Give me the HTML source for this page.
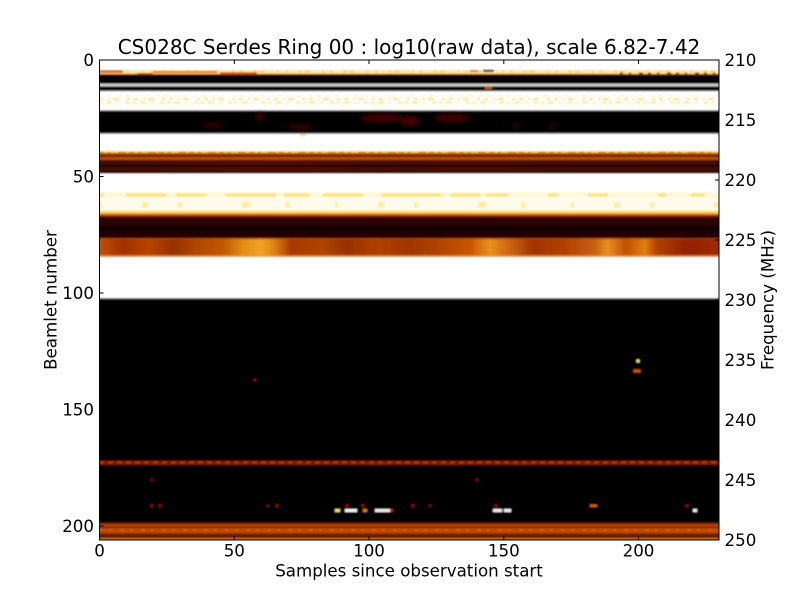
<!DOCTYPE html>
<html><head><meta charset="utf-8"><style>
html,body{margin:0;padding:0;background:#fff;}
svg{display:block;}
text{font-family:"DejaVu Sans","Liberation Sans",sans-serif;fill:#000;}
</style></head><body>
<svg width="800" height="600" viewBox="0 0 800 600" xmlns="http://www.w3.org/2000/svg">
<defs>
<clipPath id="pc"><rect x="99.5" y="60" width="619.5" height="480"/></clipPath>
<filter id="bl" x="-2%" y="-2%" width="104%" height="104%"><feGaussianBlur stdDeviation="0.9"/></filter>
<filter id="bl2" x="-50%" y="-50%" width="200%" height="200%"><feGaussianBlur stdDeviation="2.5"/></filter>
<linearGradient id="ob" x1="99" x2="719" y1="0" y2="0" gradientUnits="userSpaceOnUse">
<stop offset="0%" stop-color="#c05000"/>
<stop offset="4%" stop-color="#a03000"/>
<stop offset="8%" stop-color="#b84400"/>
<stop offset="12%" stop-color="#983000"/>
<stop offset="16%" stop-color="#b04800"/>
<stop offset="20%" stop-color="#c05800"/>
<stop offset="23%" stop-color="#e08a10"/>
<stop offset="26%" stop-color="#f0a428"/>
<stop offset="28%" stop-color="#e08818"/>
<stop offset="31%" stop-color="#a83800"/>
<stop offset="36%" stop-color="#b04400"/>
<stop offset="40%" stop-color="#983000"/>
<stop offset="45%" stop-color="#b04000"/>
<stop offset="50%" stop-color="#a03400"/>
<stop offset="55%" stop-color="#b04400"/>
<stop offset="60%" stop-color="#c85800"/>
<stop offset="63%" stop-color="#e89020"/>
<stop offset="66%" stop-color="#d06810"/>
<stop offset="70%" stop-color="#a03400"/>
<stop offset="75%" stop-color="#b04000"/>
<stop offset="80%" stop-color="#c86010"/>
<stop offset="82%" stop-color="#e89020"/>
<stop offset="85%" stop-color="#c05000"/>
<stop offset="88%" stop-color="#e08010"/>
<stop offset="90%" stop-color="#b04000"/>
<stop offset="95%" stop-color="#902000"/>
<stop offset="100%" stop-color="#a02c00"/>
</linearGradient>
<linearGradient id="dr" x1="99" x2="719" y1="0" y2="0" gradientUnits="userSpaceOnUse">
<stop offset="0%" stop-color="#3a0700"/>
<stop offset="15%" stop-color="#480c00"/>
<stop offset="30%" stop-color="#500e00"/>
<stop offset="45%" stop-color="#420a00"/>
<stop offset="60%" stop-color="#4a0c00"/>
<stop offset="80%" stop-color="#420a00"/>
<stop offset="100%" stop-color="#400a00"/>
</linearGradient>
</defs>

<g clip-path="url(#pc)">
<g filter="url(#bl)">
<rect x="99" y="60" width="621" height="480" fill="#000"/>
<rect x="99" y="59" width="621" height="12" fill="#fff"/>
<rect x="99" y="70" width="621" height="4" fill="#fbd878"/>
<line x1="99" y1="71.5" x2="720" y2="71.5" stroke="#fff4c0" stroke-width="1.5" stroke-dasharray="6 3 10 4 3 5 12 2"/>
<rect x="99" y="70" width="24" height="3" fill="#e07010"/>
<rect x="153" y="71" width="64" height="2" fill="#e87818"/>
<rect x="137" y="73" width="16" height="2" fill="#d06000"/>
<rect x="220" y="72" width="37" height="2.5" fill="#e06800"/>
<rect x="470" y="70" width="8" height="2" fill="#e07010"/>
<rect x="483" y="69.5" width="11" height="2.5" rx="1" fill="#4a4c60"/>
<line x1="620" y1="73.5" x2="718" y2="73.5" stroke="#701000" stroke-width="2" stroke-dasharray="3 6 2 8 4 5"/>
<rect x="99" y="74" width="621" height="1" fill="#a03000"/>
<rect x="99" y="83.5" width="621" height="3" fill="#b0b0b0"/>
<rect x="99" y="84.3" width="621" height="1.4" fill="#d8d8d8"/>
<rect x="485" y="87" width="7" height="2" fill="#d06000"/>
<rect x="99" y="90.5" width="621" height="1" fill="#a0a0a0"/>
<rect x="99" y="91.5" width="621" height="18.5" fill="#fff"/>
<line x1="99" y1="95.5" x2="720" y2="95.5" stroke="#fff090" stroke-width="1.5" stroke-dasharray="2 6 3 9 2 4 5 7"/>
<line x1="99" y1="99" x2="720" y2="99" stroke="#ffe060" stroke-width="2" stroke-dasharray="4 5 2 3 6 8 3 4"/>
<line x1="99" y1="102.5" x2="720" y2="102.5" stroke="#ffe870" stroke-width="2" stroke-dasharray="3 4 6 5 2 7 4 3"/>
<line x1="99" y1="106" x2="720" y2="106" stroke="#fff2a0" stroke-width="1.5" stroke-dasharray="2 9 3 6 2 11"/>
<rect x="99" y="110" width="621" height="1" fill="#909090"/>
<rect x="99" y="133" width="621" height="1" fill="#909090"/>
<rect x="99" y="134" width="621" height="17.5" fill="#fff"/>
<rect x="300" y="134" width="6" height="2" fill="#ffe060"/>
<rect x="99" y="151" width="621" height="2" fill="#ffd850"/>
<line x1="99" y1="152.5" x2="720" y2="152.5" stroke="#f09020" stroke-width="1.5" stroke-dasharray="5 4 3 7 8 3"/>
<rect x="99" y="153.5" width="621" height="1.5" fill="#c05000"/>
<rect x="99" y="155" width="621" height="1.5" fill="#200000"/>
<rect x="99" y="156.5" width="621" height="3.5" fill="#b84800"/>
<rect x="99" y="160" width="621" height="12" fill="url(#dr)"/>
<rect x="99" y="165" width="621" height="2" fill="#200300"/>
<rect x="99" y="172" width="621" height="1.5" fill="#100000"/>
<rect x="99" y="173.5" width="621" height="40" fill="#fff"/>
<rect x="99" y="192" width="621" height="6" fill="#fff8d8"/>
<line x1="99" y1="195" x2="720" y2="195" stroke="#ffe470" stroke-width="3" stroke-dasharray="5 22 40 10 30 20 50 8 25 14 40 18 60 10 30"/>
<rect x="99" y="199" width="621" height="13" fill="#fffbec"/>
<line x1="99" y1="205" x2="720" y2="205" stroke="#ffeea0" stroke-width="6" stroke-dasharray="3 40 6 30 4 60 8 35 5 45"/>
<rect x="99" y="210.5" width="621" height="2.5" fill="#ffe070"/>
<rect x="99" y="213" width="621" height="2" fill="#e88a18"/>
<rect x="99" y="215" width="621" height="2" fill="#8a2000"/>
<rect x="99" y="217" width="621" height="9" fill="#2c0400"/>
<rect x="99" y="226" width="621" height="4" fill="#080000"/>
<rect x="99" y="230" width="621" height="8" fill="#220200"/>
<rect x="99" y="238" width="621" height="19" fill="url(#ob)"/>
<rect x="99" y="238" width="621" height="1.5" fill="#b04000" opacity="0.6"/>
<rect x="99" y="255" width="621" height="2" fill="#f0a030" opacity="0.7"/>
<rect x="99" y="257" width="621" height="41" fill="#fff"/>
<rect x="99" y="298" width="621" height="1.2" fill="#707070"/>
<rect x="99" y="460.5" width="621" height="4.5" fill="#7a1800"/>
<line x1="99" y1="462.5" x2="720" y2="462.5" stroke="#b83800" stroke-width="2" stroke-dasharray="5 4"/>
<rect x="99" y="522.5" width="621" height="1.5" fill="#701500"/>
<rect x="99" y="524" width="621" height="3" fill="#b04200"/>
<rect x="99" y="527" width="621" height="1" fill="#501000"/>
<rect x="99" y="528" width="621" height="5" fill="#c04c00"/>
<line x1="99" y1="530" x2="720" y2="530" stroke="#d86010" stroke-width="1.5" stroke-dasharray="4 6 3 8"/>
<rect x="99" y="533" width="621" height="3" fill="#802000"/>
<rect x="99" y="536" width="621" height="1.5" fill="#180000"/>
<rect x="99" y="537.5" width="621" height="3" fill="#c86010"/>
<g fill="#7a0a00">
<circle cx="152" cy="505.7" r="1.8"/><circle cx="160" cy="505.7" r="1.8"/>
<circle cx="268" cy="505.7" r="1.4"/><circle cx="277" cy="505.7" r="1.8"/>
<circle cx="347" cy="505.7" r="1.8"/><circle cx="363" cy="505.7" r="1.8"/>
<circle cx="413" cy="505.7" r="1.8"/><circle cx="430" cy="505.7" r="1.4"/>
<circle cx="496" cy="505.7" r="1.8"/><circle cx="687" cy="505.7" r="1.8"/>
<circle cx="152" cy="480" r="1.5"/><circle cx="477" cy="480" r="1.5"/>
<circle cx="255" cy="380" r="1.6"/>
</g>
<rect x="335" y="509" width="5" height="3" fill="#f0e060"/>
<rect x="345" y="509" width="12" height="3" fill="#f4f4f4"/>
<rect x="363" y="509" width="4" height="3" fill="#e08000"/>
<rect x="375" y="509" width="15" height="3" fill="#f0f0f0"/>
<rect x="390" y="509" width="3" height="3" fill="#c02000"/>
<rect x="493" y="509" width="9" height="3" fill="#f0f0f0"/>
<rect x="504" y="509" width="7" height="3" fill="#f0f0f0"/>
<rect x="693" y="509" width="4" height="3" fill="#f0f0f0"/>
<rect x="590" y="504.5" width="7" height="2.5" fill="#d06000"/>
<rect x="636.5" y="359.5" width="3" height="3" fill="#f0e070"/>
<rect x="633.5" y="369.5" width="7" height="3" fill="#d05000"/>
</g>
<g filter="url(#bl2)" fill="#5a0000" opacity="0.8">
<ellipse cx="213" cy="125.5" rx="10" ry="2"/>
<ellipse cx="260" cy="117" rx="4" ry="4"/>
<ellipse cx="382" cy="118" rx="22" ry="4"/>
<ellipse cx="410" cy="121" rx="10" ry="5"/>
<ellipse cx="452" cy="118" rx="18" ry="4"/>
<ellipse cx="516" cy="126" rx="4" ry="2"/>
<ellipse cx="552" cy="126" rx="3" ry="2"/>
<ellipse cx="300" cy="127" rx="14" ry="2"/>
</g>
</g>

<rect x="99.5" y="60" width="619.5" height="480" fill="none" stroke="#000" stroke-width="1"/>
<g stroke="#000" stroke-width="1">
<line x1="99.5" y1="540" x2="99.5" y2="536"/><line x1="234.3" y1="540" x2="234.3" y2="536"/>
<line x1="369" y1="540" x2="369" y2="536"/><line x1="503.8" y1="540" x2="503.8" y2="536"/>
<line x1="638.5" y1="540" x2="638.5" y2="536"/>
<line x1="99.5" y1="60" x2="99.5" y2="64"/><line x1="234.3" y1="60" x2="234.3" y2="64"/>
<line x1="369" y1="60" x2="369" y2="64"/><line x1="503.8" y1="60" x2="503.8" y2="64"/>
<line x1="638.5" y1="60" x2="638.5" y2="64"/>
<line x1="99.5" y1="60" x2="103.5" y2="60"/><line x1="99.5" y1="176.5" x2="103.5" y2="176.5"/>
<line x1="99.5" y1="293" x2="103.5" y2="293"/><line x1="99.5" y1="409.5" x2="103.5" y2="409.5"/>
<line x1="99.5" y1="526" x2="103.5" y2="526"/>
<line x1="719" y1="60" x2="715" y2="60"/><line x1="719" y1="120" x2="715" y2="120"/>
<line x1="719" y1="180" x2="715" y2="180"/><line x1="719" y1="240" x2="715" y2="240"/>
<line x1="719" y1="300" x2="715" y2="300"/><line x1="719" y1="360" x2="715" y2="360"/>
<line x1="719" y1="420" x2="715" y2="420"/><line x1="719" y1="480" x2="715" y2="480"/>
<line x1="719" y1="540" x2="715" y2="540"/>
</g>

<text x="409" y="54" font-size="20" text-anchor="middle">CS028C Serdes Ring 00 : log10(raw data), scale 6.82-7.42</text>

<g font-size="16.67" text-anchor="middle">
<text x="99.5" y="556.5">0</text>
<text x="234.3" y="556.5">50</text>
<text x="369" y="556.5">100</text>
<text x="503.8" y="556.5">150</text>
<text x="638.5" y="556.5">200</text>
</g>
<text x="409" y="576.5" font-size="16.67" text-anchor="middle">Samples since observation start</text>

<g font-size="16.67" text-anchor="end">
<text x="94" y="66">0</text>
<text x="94" y="182.5">50</text>
<text x="94" y="299">100</text>
<text x="94" y="415.5">150</text>
<text x="94" y="532">200</text>
</g>
<text transform="translate(56.5,300) rotate(-90)" font-size="16.67" text-anchor="middle">Beamlet number</text>

<g font-size="16.67" text-anchor="start">
<text x="724.5" y="66">210</text>
<text x="724.5" y="126">215</text>
<text x="724.5" y="186">220</text>
<text x="724.5" y="246">225</text>
<text x="724.5" y="306">230</text>
<text x="724.5" y="366">235</text>
<text x="724.5" y="426">240</text>
<text x="724.5" y="486">245</text>
<text x="724.5" y="546">250</text>
</g>
<text transform="translate(773.3,300) rotate(-90)" font-size="16.67" text-anchor="middle">Frequency (MHz)</text>
</svg>
</body></html>
